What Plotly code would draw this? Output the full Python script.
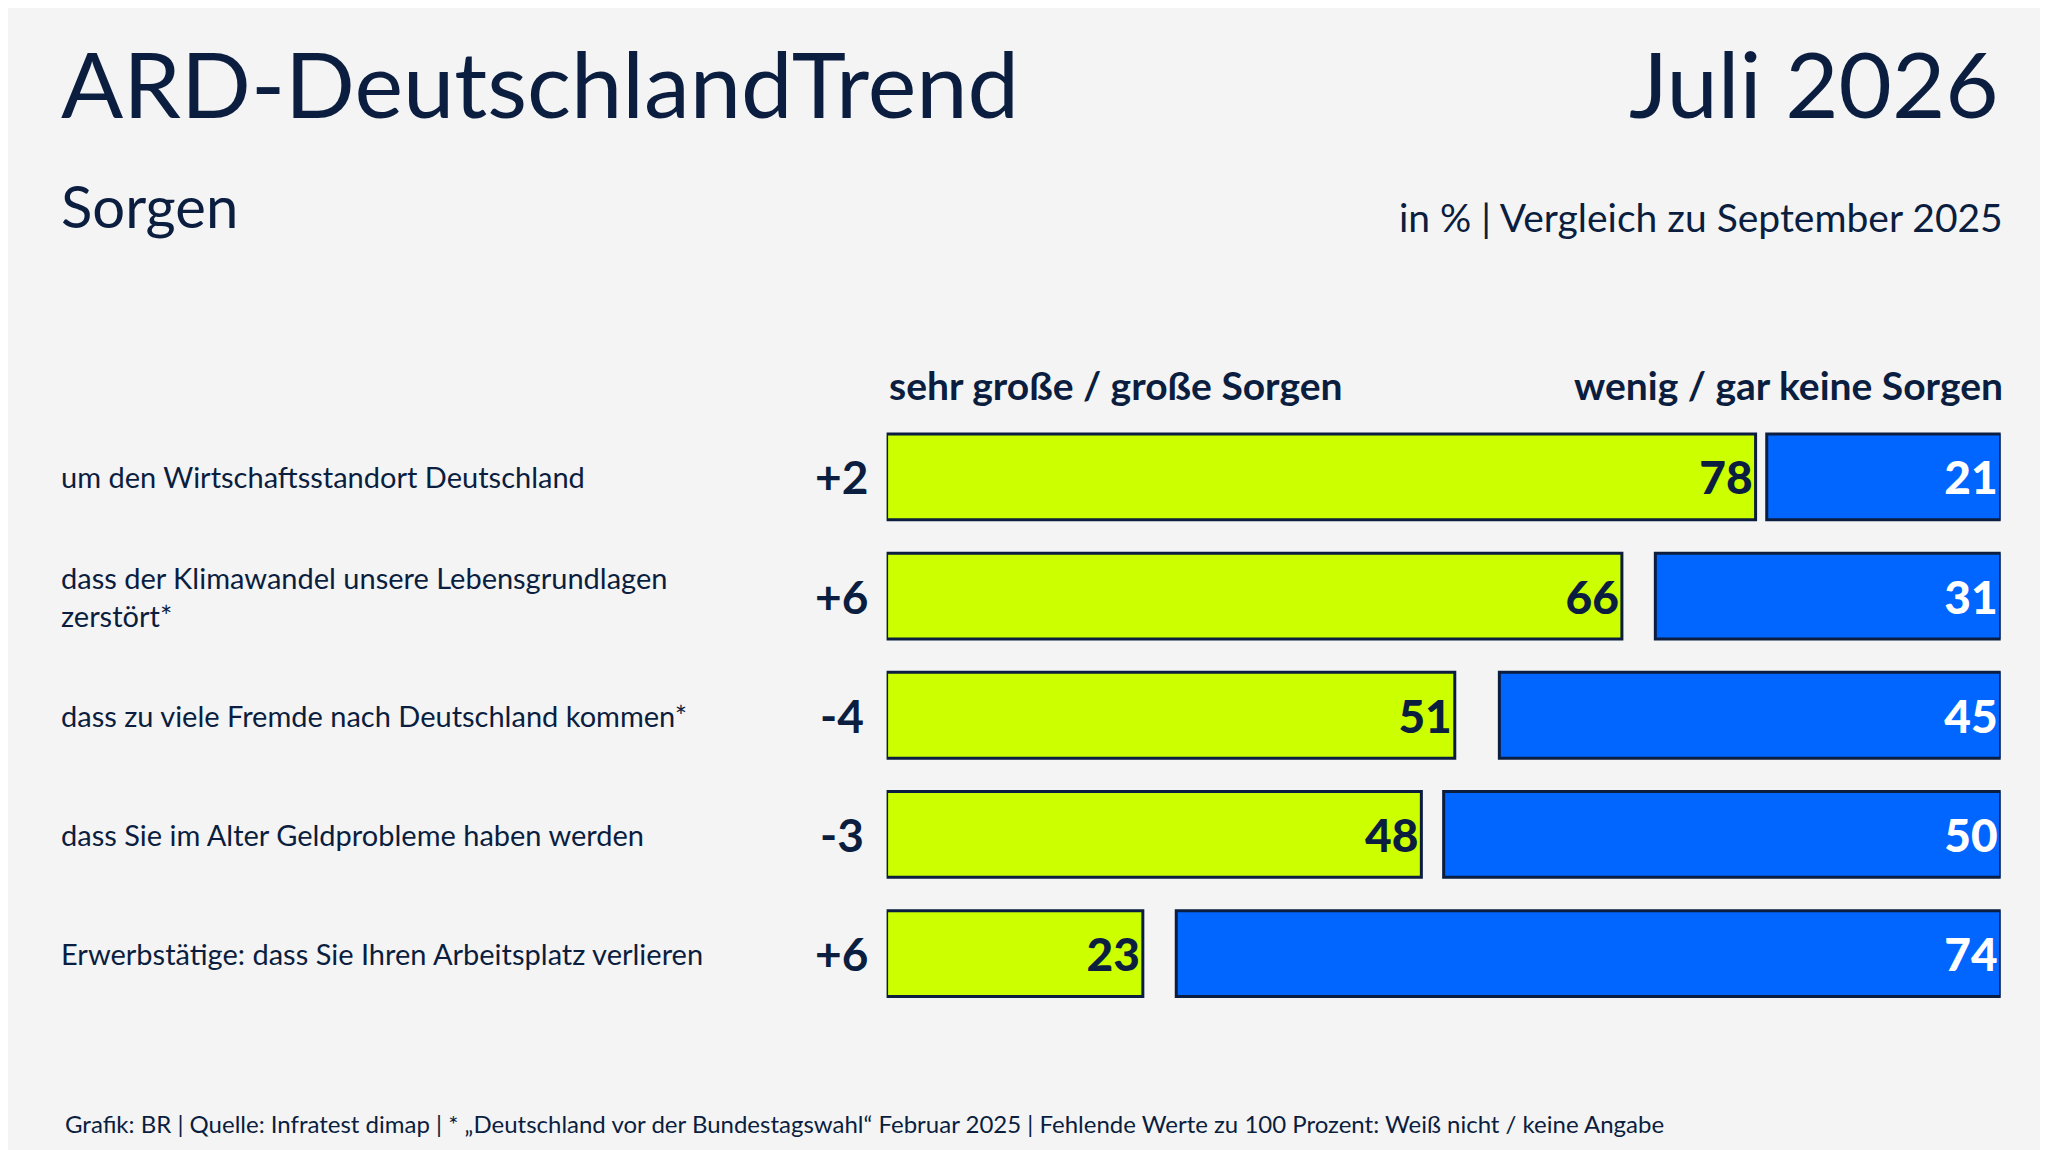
import plotly.graph_objects as go

# chart data
labels = [
    "um den Wirtschaftsstandort Deutschland",
    "dass der Klimawandel unsere Lebensgrundlagen<br>zerstört*",
    "dass zu viele Fremde nach Deutschland kommen*",
    "dass Sie im Alter Geldprobleme haben werden",
    "Erwerbstätige: dass Sie Ihren Arbeitsplatz verlieren",
]
changes = ["+2", "+6", "-4", "-3", "+6"]
worried = [78, 66, 51, 48, 23]
not_worried = [21, 31, 45, 50, 74]

navy = "#0B1E40"
rows = list(range(len(labels)))

fig = go.Figure()
fig.add_trace(go.Bar(
    y=rows, x=worried, base=0, orientation="h",
    marker=dict(color="#CCFF00", line=dict(color=navy, width=3)),
    text=worried, textposition="inside", insidetextanchor="end",
    textfont=dict(size=46, color=navy, family="Lato Black, Lato"),
    width=0.72, cliponaxis=False,
))
fig.add_trace(go.Bar(
    y=rows, x=not_worried, base=[100 - v for v in not_worried], orientation="h",
    marker=dict(color="#0066FF", line=dict(color=navy, width=3)),
    text=not_worried, textposition="inside", insidetextanchor="end",
    textfont=dict(size=46, color="white", family="Lato Black, Lato"),
    width=0.72, cliponaxis=False,
))

ann = []
for i, (lab, ch) in enumerate(zip(labels, changes)):
    ann.append(dict(x=0.025, y=i, xref="paper", yref="y", text=lab, showarrow=False,
                    xanchor="left", align="left", font=dict(size=29, color=navy)))
    ann.append(dict(x=0.407, y=i, xref="paper", yref="y", text="<b>%s</b>" % ch, showarrow=False,
                    xanchor="center", font=dict(size=46, color=navy)))

ann += [
    dict(x=0.025, y=0.985, text="ARD-DeutschlandTrend", xanchor="left", yanchor="top",
         font=dict(size=92, color=navy)),
    dict(x=0.973, y=0.985, text="Juli 2026", xanchor="right", yanchor="top",
         font=dict(size=92, color=navy)),
    dict(x=0.025, y=0.86, text="Sorgen", xanchor="left", yanchor="top",
         font=dict(size=58, color=navy)),
    dict(x=0.975, y=0.84, text="in % | Vergleich zu September 2025", xanchor="right", yanchor="top",
         font=dict(size=39, color=navy)),
    dict(x=0.429, y=0.672, text="<b>sehr große / große Sorgen</b>", xanchor="left", yanchor="middle",
         font=dict(size=39, color=navy)),
    dict(x=0.975, y=0.672, text="<b>wenig / gar keine Sorgen</b>", xanchor="right", yanchor="middle",
         font=dict(size=39, color=navy)),
    dict(x=0.027, y=0.03, text="Grafik: BR | Quelle: Infratest dimap | * „Deutschland vor der Bundestagswahl“ Februar 2025 | Fehlende Werte zu 100 Prozent: Weiß nicht / keine Angabe",
         xanchor="left", yanchor="middle", font=dict(size=24, color=navy)),
]
for a in ann:
    a.setdefault("xref", "paper")
    a.setdefault("yref", "paper")
    a.setdefault("showarrow", False)

fig.update_layout(
    width=2048, height=1150,
    margin=dict(l=0, r=0, t=0, b=0),
    paper_bgcolor="#F4F4F4", plot_bgcolor="#F4F4F4",
    font=dict(family="Lato", color=navy),
    showlegend=False, barmode="overlay",
    uniformtext=dict(minsize=46, mode="show"),
    xaxis=dict(domain=[0.429, 0.973], range=[0, 100], visible=False, fixedrange=True),
    yaxis=dict(domain=[0.126, 0.644], range=[4.5, -0.5], visible=False),
    annotations=ann,
)

fig.write_html("out.html")
